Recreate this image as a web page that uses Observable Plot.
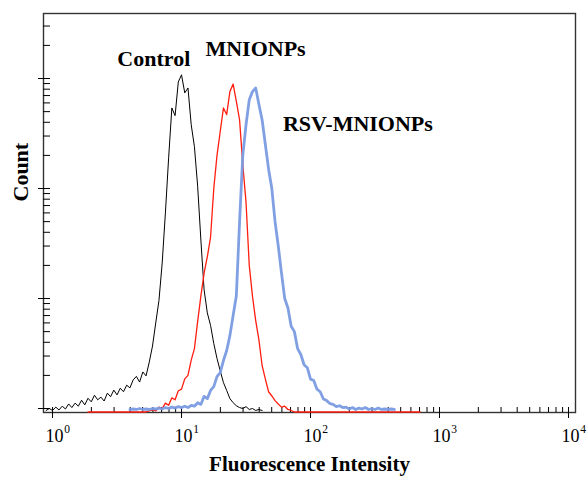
<!DOCTYPE html>
<html><head><meta charset="utf-8">
<script src="https://cdn.jsdelivr.net/npm/d3@7"></script>
<script src="https://cdn.jsdelivr.net/npm/@observablehq/plot@0.6"></script>
<style>body{margin:0;background:#fff} #chart svg{display:block}</style>
</head><body><div id="chart"></div>
<script>
// Log-spaced acquisition channels: channel k sits at 10^(k * channelStep)
const channelStep = 0.025;

// Control histogram (channels -2 .. 65)
const controlStart = -2;
const controlCounts = [0.96,1.0,0.96,1.03,0.97,1.05,0.99,1.1,1.02,1.12,1.05,1.19,1.08,1.24,1.15,1.32,1.2,1.27,1.17,1.38,1.28,1.47,1.33,1.53,1.42,1.63,1.54,1.82,1.96,1.74,2.15,1.98,2.65,3.7,6.0,9.6,21,60,190,540,460,930,1080,740,820,380,240,105,34,12,7.4,5.7,3.9,2.85,2.2,1.72,1.46,1.23,1.13,1.06,1.02,1.0,1.04,0.98,1.0,0.96,0.98,0.96];

// MNIONPs histogram (channels 11 .. 114)
const mnionpsStart = 11;
const mnionpsCounts = [0.93,0.93,0.93,0.93,0.93,0.93,0.93,0.93,0.93,0.93,0.93,0.93,0.93,0.93,0.93,0.93,0.93,0.93,0.93,
  0.95,0.97,0.95,1.03,1.0,1.12,1.07,1.25,1.2,1.45,1.5,1.86,2.0,2.75,3.5,6.2,10.5,17,24,36,100,200,330,540,470,760,890,620,420,165,75,20,10.5,6.3,4.2,2.45,1.85,1.42,1.3,1.18,1.1,1.03,1.05,0.98,0.96,
  0.93,0.93,0.93,0.93,0.93,0.93,0.93,0.93,0.93,0.93,0.93,0.93,0.93,0.93,0.93,0.93,0.93,0.93,0.93,0.93,0.93,0.93,0.93,0.93,0.93,0.93,0.93,0.93,0.93,0.93,0.93,0.93,0.93,0.93,0.93,0.93,0.93,0.93,0.93,0.93];

// RSV-MNIONPs histogram (channels 24 .. 106)
const rsvStart = 24;
const rsvCounts = [0.98,0.99,0.98,1.0,0.98,0.99,0.98,1.0,0.99,1.01,0.99,1.02,1.0,1.03,1.01,1.04,1.02,
  1.05,1.02,1.07,1.05,1.13,1.09,1.29,1.23,1.46,1.58,1.95,2.12,2.73,3.37,4.6,7.0,10.6,50,200,380,640,760,820,580,420,250,150,100,50,30,17,10,8.2,5.6,5.0,3.5,3.1,2.5,2.35,1.85,1.8,1.5,1.42,1.22,1.18,1.11,1.09,1.04,1.06,1.02,
  1.03,0.99,1.02,0.98,1.01,0.99,1.02,0.98,1.0,0.98,1.01,0.98,0.99,0.98,0.99,0.98];

const seriesNames = ["Control", "MNIONPs", "RSV-MNIONPs"];
const seriesColors = ["#000000", "#ff1e10", "#7a9be2"];
const seriesWidths = [1, 1.3, 2.8];
const labelX = [6.1, 37.5, 233];
const labelY = [1517, 1874, 390];

const xDecades = [1, 10, 100, 1000, 10000];
const xExponents = ["0", "1", "2", "3", "4"];
const xMinor = [2,3,4,5,6,7,8,9,20,30,40,50,60,70,80,90,200,300,400,500,600,700,800,900,2000,3000,4000,5000,6000,7000,8000,9000];
const yDecades = [1, 10, 100, 1000];
const yMinor = [2,3,4,5,6,7,8,9,20,30,40,50,60,70,80,90,200,300,400,500,600,700,800,900,2000,3000];

function rows(start, counts, name) {
  return counts.map((c, k) => ({x: Math.pow(10, (start + k) * channelStep), y: c, name}));
}
const series = [
  rows(controlStart, controlCounts, seriesNames[0]),
  rows(mnionpsStart, mnionpsCounts, seriesNames[1]),
  rows(rsvStart, rsvCounts, seriesNames[2])
];
const labels = seriesNames.map((n, i) => ({name: n, x: labelX[i], y: labelY[i]}));

const font = "'Liberation Serif','Times New Roman',serif";
const chart = Plot.plot({
  width: 587, height: 478,
  marginLeft: 43, marginRight: 12, marginTop: 13, marginBottom: 66,
  x: {type: "log", domain: [0.851, 11330]},
  y: {type: "log", domain: [0.92, 3900]},
  style: {fontFamily: font, background: "#fff", color: "#000"},
  marks: [
    Plot.frame({stroke: "#333", strokeWidth: 1.4}),
    Plot.axisX(xMinor, {tickSize: 5, dy: -5, tickFormat: () => "", label: null}),
    Plot.axisX(xDecades, {tickSize: 11, dy: -5, tickFormat: () => "", label: null}),
    Plot.axisX(xDecades, {tickSize: 0, tickPadding: 16.5, tickFormat: () => "10", fontSize: 18, dx: 2, label: null}),
    Plot.axisX(xDecades, {tickSize: 0, tickPadding: 12.5, tickFormat: d => xExponents[xDecades.indexOf(d)], fontSize: 11.5, dx: 14.5, label: null}),
    Plot.axisY(yMinor, {tickSize: 7, dx: 7, tickFormat: () => "", label: null}),
    Plot.axisY(yDecades, {tickSize: 12, dx: 7, tickFormat: () => "", label: null}),
    Plot.line(series[0], {x: "x", y: "y", stroke: seriesColors[0], strokeWidth: seriesWidths[0]}),
    Plot.line(series[1], {x: "x", y: "y", stroke: seriesColors[1], strokeWidth: seriesWidths[1]}),
    Plot.line(series[2], {x: "x", y: "y", stroke: seriesColors[2], strokeWidth: seriesWidths[2], strokeOpacity: 0.95}),
    Plot.text(labels, {x: "x", y: "y", text: "name", fontSize: 22, fontWeight: "bold", textAnchor: "middle", lineAnchor: "middle", fill: "#000"}),
    Plot.text(["Fluorescence Intensity"], {frameAnchor: "bottom", text: d => d, dy: 43.5, lineAnchor: "top", fontSize: 21, fontWeight: "bold", fill: "#000"}),
    Plot.text(["Count"], {frameAnchor: "left", text: d => d, rotate: -90, dx: -22.5, dy: -11.5, lineAnchor: "middle", fontSize: 22, fontWeight: "bold", fill: "#000"})
  ]
});
document.getElementById("chart").appendChild(chart);
</script>
</body></html>
